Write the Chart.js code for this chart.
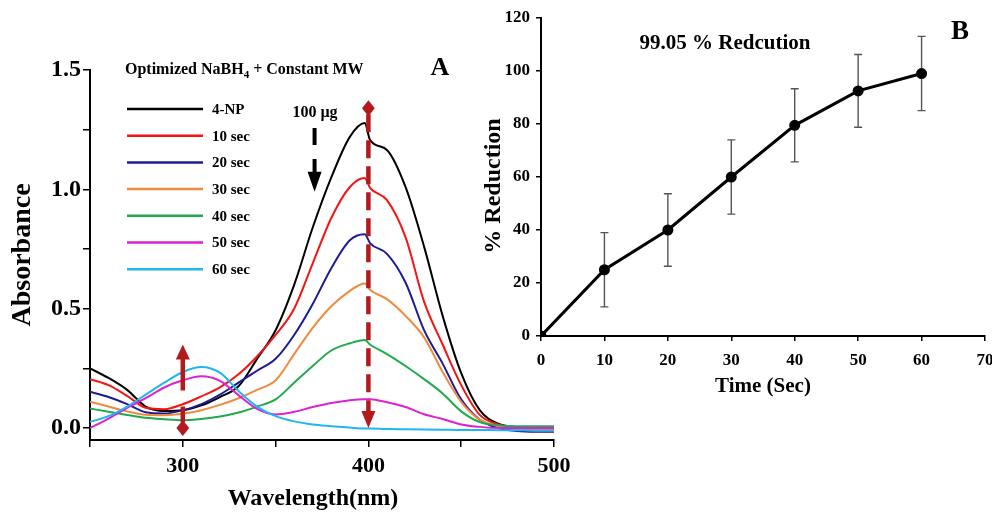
<!DOCTYPE html>
<html>
<head>
<meta charset="utf-8">
<script src="https://cdn.jsdelivr.net/npm/chart.js@4.4.0/dist/chart.umd.min.js"></script>
<style>
  html, body { margin: 0; padding: 0; background: #fff; }
  #wrap { position: relative; width: 992px; height: 516px; overflow: hidden; }
  #chartA { position: absolute; left: 0; top: 0; }
  #chartB { position: absolute; left: 470px; top: 0; }
</style>
</head>
<body>
<div id="wrap">
  <canvas id="chartA" width="580" height="516"></canvas>
  <canvas id="chartB" width="522" height="410"></canvas>
</div>
<script>
// ---- panel A data (absorbance vs wavelength) ----
const wavelengths = [250, 260, 270, 280, 290, 300, 310, 320, 330, 340, 350, 360, 370, 380, 390, 398, 401, 410, 420, 430, 440, 450, 460, 470, 480, 490, 500];
const abs4NP  = [0.25, 0.21, 0.16, 0.09, 0.072, 0.075, 0.095, 0.13, 0.175, 0.29, 0.41, 0.60, 0.84, 1.05, 1.22, 1.278, 1.205, 1.165, 1.01, 0.76, 0.47, 0.23, 0.075, 0.018, 0.004, 0.0, 0.0];
const abs10s  = [0.205, 0.18, 0.135, 0.085, 0.079, 0.10, 0.133, 0.17, 0.225, 0.30, 0.39, 0.50, 0.69, 0.88, 1.01, 1.048, 1.005, 0.955, 0.80, 0.53, 0.35, 0.18, 0.055, 0.015, -0.005, -0.01, -0.01];
const abs20s  = [0.152, 0.13, 0.10, 0.066, 0.061, 0.074, 0.10, 0.14, 0.19, 0.24, 0.29, 0.39, 0.52, 0.67, 0.787, 0.812, 0.774, 0.73, 0.61, 0.41, 0.27, 0.12, 0.035, 0.0, -0.012, -0.015, -0.015];
const abs30s  = [0.11, 0.09, 0.07, 0.056, 0.054, 0.06, 0.075, 0.097, 0.125, 0.16, 0.20, 0.31, 0.42, 0.51, 0.575, 0.606, 0.578, 0.54, 0.47, 0.38, 0.235, 0.11, 0.035, 0.008, -0.005, -0.01, -0.01];
const abs40s  = [0.082, 0.068, 0.055, 0.043, 0.037, 0.033, 0.038, 0.048, 0.065, 0.09, 0.12, 0.19, 0.26, 0.325, 0.355, 0.369, 0.349, 0.31, 0.26, 0.205, 0.145, 0.07, 0.025, 0.012, 0.008, 0.008, 0.008];
const abs50s  = [0.0, 0.04, 0.085, 0.125, 0.17, 0.20, 0.217, 0.198, 0.138, 0.08, 0.057, 0.068, 0.088, 0.105, 0.117, 0.121, 0.121, 0.108, 0.088, 0.058, 0.038, 0.015, 0.005, 0.0, 0.0, 0.0, 0.0];
const abs60s  = [0.026, 0.05, 0.09, 0.14, 0.19, 0.235, 0.256, 0.232, 0.155, 0.09, 0.05, 0.028, 0.015, 0.008, 0.002, -0.002, -0.002, -0.004, -0.005, -0.006, -0.007, -0.008, -0.008, -0.009, -0.009, -0.01, -0.01];
const seriesLabels = ['4-NP', '10 sec', '20 sec', '30 sec', '40 sec', '50 sec', '60 sec'];
const seriesColors = ['#000000', '#f41414', '#1c1c94', '#f08a3e', '#20aa4c', '#dc22d0', '#20b6ee'];
const absTicks = [0, 0.25, 0.5, 0.75, 1.0, 1.25, 1.5];
const waveTicks = [250, 300, 350, 400, 450, 500];

// ---- panel B data (% reduction vs time) ----
const timeSec = [0, 10, 20, 30, 40, 50, 60];
const reductionPct = [0, 25, 40, 60, 79.5, 92.5, 99.05];
const reductionErr = [0, 14, 13.7, 14, 13.8, 13.7, 14];

const serif = '"Liberation Serif", "Times New Roman", serif';
Chart.defaults.font.family = serif;
Chart.defaults.color = '#000';

const absSeries = [abs4NP, abs10s, abs20s, abs30s, abs40s, abs50s, abs60s];

function diamond(ctx, cx, cy, r) {
  ctx.beginPath();
  ctx.moveTo(cx, cy - r);
  ctx.lineTo(cx + r * 0.8, cy);
  ctx.lineTo(cx, cy + r);
  ctx.lineTo(cx - r * 0.8, cy);
  ctx.closePath();
  ctx.fill();
}

function arrowHead(ctx, x, tipY, dir, len, half) {
  // dir = 1 points down, -1 points up
  ctx.beginPath();
  ctx.moveTo(x, tipY);
  ctx.lineTo(x - half, tipY - dir * len);
  ctx.lineTo(x + half, tipY - dir * len);
  ctx.closePath();
  ctx.fill();
}

const panelAExtras = {
  id: 'panelAExtras',
  afterDraw(chart) {
    const { ctx, scales: { x, y } } = chart;
    ctx.save();
    ctx.fillStyle = '#000';
    ctx.textBaseline = 'alphabetic';

    // heading with subscript
    let tx = 125;
    const ty = 74;
    ctx.font = 'bold 16px ' + serif;
    ctx.fillText('Optimized NaBH', tx, ty);
    tx += ctx.measureText('Optimized NaBH').width;
    ctx.font = 'bold 11px ' + serif;
    ctx.fillText('4', tx, ty + 4);
    tx += ctx.measureText('4').width;
    ctx.font = 'bold 16px ' + serif;
    ctx.fillText(' + Constant MW', tx, ty);

    ctx.font = 'bold 26px ' + serif;
    ctx.textAlign = 'center';
    ctx.textBaseline = 'middle';
    ctx.fillText('A', 440, 68);

    // x axis title
    ctx.font = 'bold 24px ' + serif;
    ctx.fillText('Wavelength(nm)', 313, 499);

    // legend
    ctx.textAlign = 'left';
    ctx.font = 'bold 15px ' + serif;
    seriesLabels.forEach((lab, i) => {
      const ly = 109 + i * 26.7;
      ctx.strokeStyle = seriesColors[i];
      ctx.lineWidth = 2.5;
      ctx.beginPath();
      ctx.moveTo(127, ly);
      ctx.lineTo(203, ly);
      ctx.stroke();
      ctx.fillText(lab, 212, ly + 1);
    });

    // 100 µg with dashed black arrow
    ctx.textAlign = 'center';
    ctx.font = 'bold 16px ' + serif;
    ctx.fillText('100 µg', 315, 113);
    const bx = x.getPixelForValue(371);
    const bTip = y.getPixelForValue(0.99);
    ctx.strokeStyle = '#000';
    ctx.lineWidth = 4;
    ctx.setLineDash([17, 14]);
    ctx.beginPath();
    ctx.moveTo(bx, y.getPixelForValue(1.257));
    ctx.lineTo(bx, bTip - 18);
    ctx.stroke();
    ctx.setLineDash([]);
    arrowHead(ctx, bx, bTip, 1, 20, 7);

    // red dashed marker at 400 nm
    const red = '#b31a1e';
    ctx.fillStyle = red;
    ctx.strokeStyle = red;
    const rx = x.getPixelForValue(400);
    const rTop = y.getPixelForValue(1.34);
    const rTip = y.getPixelForValue(0);
    diamond(ctx, rx, rTop, 8);
    ctx.lineWidth = 4.5;
    ctx.setLineDash([18, 8]);
    ctx.beginPath();
    ctx.moveTo(rx, rTop + 6);
    ctx.lineTo(rx, rTip - 14);
    ctx.stroke();
    ctx.setLineDash([]);
    arrowHead(ctx, rx, rTip, 1, 17, 7);

    // red dashed marker at 300 nm
    const sx = x.getPixelForValue(300);
    const sTip = y.getPixelForValue(0.35);
    const sBot = y.getPixelForValue(0);
    arrowHead(ctx, sx, sTip, -1, 15, 7);
    ctx.lineWidth = 4.5;
    ctx.setLineDash([32, 16]);
    ctx.beginPath();
    ctx.moveTo(sx, sTip + 14);
    ctx.lineTo(sx, sBot - 6);
    ctx.stroke();
    ctx.setLineDash([]);
    diamond(ctx, sx, sBot, 8);
    ctx.restore();
  }
};

const axisCommon = {
  border: { display: true, color: '#000', width: 2 },
  grid: { display: true, drawOnChartArea: false, drawTicks: true, color: '#000', lineWidth: 1.5 }
};

new Chart(document.getElementById('chartA').getContext('2d'), {
  type: 'line',
  data: {
    datasets: absSeries.map((vals, i) => ({
      label: seriesLabels[i],
      data: wavelengths.map((w, k) => ({ x: w, y: vals[k] })),
      borderColor: seriesColors[i],
      borderWidth: 2,
      pointRadius: 0,
      cubicInterpolationMode: 'monotone',
      fill: false
    })).reverse()
  },
  options: {
    responsive: false,
    animation: false,
    layout: { padding: { top: 70, right: 26, left: 0, bottom: 0 } },
    scales: {
      x: {
        type: 'linear',
        min: 250,
        max: 500,
        afterBuildTicks: (s) => { s.ticks = waveTicks.map(v => ({ value: v })); },
        afterFit: (s) => { s.height = 76; },
        ...axisCommon,
        grid: { ...axisCommon.grid, tickLength: 7 },
        ticks: {
          autoSkip: false,
          maxRotation: 0,
          padding: 6,
          font: { size: 22, weight: 'bold' },
          callback: (v) => (v % 100 === 0 ? String(v) : '')
        }
      },
      y: {
        min: -0.05,
        max: 1.5,
        afterBuildTicks: (s) => { s.ticks = absTicks.map(v => ({ value: v })); },
        afterFit: (s) => { s.width = 90; },
        ...axisCommon,
        grid: { ...axisCommon.grid, tickLength: 7 },
        ticks: {
          autoSkip: false,
          padding: 2,
          font: { size: 24, weight: 'bold' },
          callback: (v) => (Math.abs(v * 2 - Math.round(v * 2)) < 1e-9 ? v.toFixed(1) : '')
        },
        title: {
          display: true,
          text: 'Absorbance',
          font: { size: 28, weight: 'bold' },
          padding: { top: 6, bottom: 0 }
        }
      }
    },
    plugins: { legend: { display: false }, tooltip: { enabled: false } }
  },
  plugins: [panelAExtras]
});

const panelBExtras = {
  id: 'panelBExtras',
  beforeDatasetsDraw(chart) {
    const { ctx, scales: { x, y } } = chart;
    ctx.save();
    ctx.strokeStyle = '#555';
    ctx.lineWidth = 1.4;
    timeSec.forEach((t, i) => {
      const e = reductionErr[i];
      if (!e) return;
      const px = x.getPixelForValue(t);
      const hi = y.getPixelForValue(reductionPct[i] + e);
      const lo = y.getPixelForValue(reductionPct[i] - e);
      ctx.beginPath();
      ctx.moveTo(px, hi); ctx.lineTo(px, lo);
      ctx.moveTo(px - 4, hi); ctx.lineTo(px + 4, hi);
      ctx.moveTo(px - 4, lo); ctx.lineTo(px + 4, lo);
      ctx.stroke();
    });
    ctx.restore();
  },
  afterDraw(chart) {
    const { ctx } = chart;
    ctx.save();
    ctx.fillStyle = '#000';
    ctx.textAlign = 'center';
    ctx.textBaseline = 'middle';
    ctx.font = 'bold 21px ' + serif;
    ctx.fillText('99.05 % Redcution', 255, 44);
    ctx.font = 'bold 27px ' + serif;
    ctx.fillText('B', 490, 32);
    // y axis title
    ctx.translate(24, 186);
    ctx.rotate(-Math.PI / 2);
    ctx.font = 'bold 24px ' + serif;
    ctx.fillText('% Reduction', 0, 0);
    ctx.restore();
  }
};

new Chart(document.getElementById('chartB').getContext('2d'), {
  type: 'line',
  data: {
    datasets: [{
      data: timeSec.map((t, i) => ({ x: t, y: reductionPct[i] })),
      borderColor: '#000',
      backgroundColor: '#000',
      borderWidth: 3,
      pointRadius: 4,
      pointBackgroundColor: '#000',
      tension: 0
    }]
  },
  options: {
    responsive: false,
    animation: false,
    layout: { padding: { top: 18, right: 7, left: 0, bottom: 0 } },
    scales: {
      x: {
        type: 'linear',
        min: 0,
        max: 70,
        afterFit: (s) => { s.height = 74; s.paddingRight = 0; s.paddingLeft = 0; },
        ...axisCommon,
        grid: { ...axisCommon.grid, tickLength: 5 },
        ticks: { stepSize: 10, autoSkip: false, maxRotation: 0, padding: 9, font: { size: 17, weight: 'bold' } },
        title: {
          display: true,
          text: 'Time (Sec)',
          font: { size: 21, weight: 'bold' },
          padding: { top: 0, bottom: 11 }
        }
      },
      y: {
        min: 0,
        max: 120,
        afterFit: (s) => { s.width = 71; s.paddingTop = 0; s.paddingBottom = 0; },
        ...axisCommon,
        grid: { ...axisCommon.grid, tickLength: 5 },
        ticks: { stepSize: 20, autoSkip: false, padding: 6, font: { size: 17, weight: 'bold' } }
      }
    },
    plugins: { legend: { display: false }, tooltip: { enabled: false } }
  },
  plugins: [panelBExtras]
});
</script>
</body>
</html>
